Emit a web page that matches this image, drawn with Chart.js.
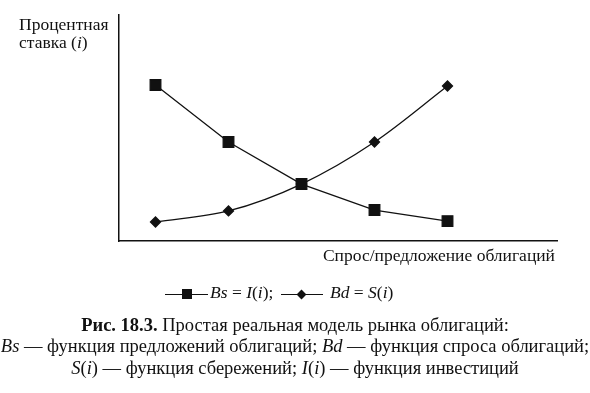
<!DOCTYPE html>
<html><head><meta charset="utf-8">
<script src="https://cdn.jsdelivr.net/npm/chart.js@4/dist/chart.umd.min.js"></script>
<style>
html,body{margin:0;padding:0;background:#fff;}
#wrap{position:relative;width:590px;height:393px;font-family:"Liberation Serif","DejaVu Serif",serif;color:#111;}
canvas{position:absolute;left:0;top:0;}
.t{position:absolute;white-space:nowrap;font-size:17.5px;line-height:18px;}
.c{position:absolute;white-space:nowrap;font-size:18.5px;line-height:21px;left:0;width:590px;text-align:center;}
.ln{position:absolute;border-top:1.3px solid #111;height:0;}
.sq{position:absolute;width:10px;height:10px;background:#111;}
.dm{position:absolute;width:7px;height:7px;background:#111;transform:rotate(45deg);}
</style></head><body>
<div id="wrap">
<canvas id="c" width="590" height="393"></canvas>
<div class="t" style="left:19px;top:15px;">Процентная</div>
<div class="t" style="left:19px;top:33px;">ставка (<i>i</i>)</div>
<div class="t" style="right:35px;top:246px;">Спрос/предложение облигаций</div>
<div id="leg"></div>
<div class="c" style="top:315px;"><b>Рис. 18.3.</b> Простая реальная модель рынка облигаций:</div>
<div class="c" style="top:336px;"><i>Bs</i> — функция предложений облигаций; <i>Bd</i> — функция спроса облигаций;</div>
<div class="c" style="top:358px;"><i>S</i>(<i>i</i>) — функция сбережений; <i>I</i>(<i>i</i>) — функция инвестиций</div>
</div>
<script>
const quantity = [0.5, 1.5, 2.5, 3.5, 4.5];
const supplyBs = [6.9, 4.38, 2.52, 1.37, 0.88];
const demandBd = [0.84, 1.33, 2.52, 4.38, 6.86];
const seriesNames = ["Bs = I(i);", "Bd = S(i)"];

const toPts = (ys) => quantity.map((x, i) => ({x, y: ys[i]}));

new Chart(document.getElementById('c'), {
  type: 'line',
  data: {
    datasets: [
      {label: seriesNames[0], data: toPts(supplyBs), borderColor:'#111', backgroundColor:'#111',
       borderWidth:1.3, pointStyle:'rect', pointRadius:7.5, tension:0},
      {label: seriesNames[1], data: toPts(demandBd), borderColor:'#111', backgroundColor:'#111',
       borderWidth:1.3, pointStyle:'rectRot', pointRadius:5, cubicInterpolationMode:'monotone'}
    ]
  },
  options: {
    responsive:false, animation:false, devicePixelRatio:1,
    layout:{padding:{left:111, top:15, right:33, bottom:144}},
    plugins:{legend:{display:false}, tooltip:{enabled:false}},
    scales:{
      x:{type:'linear', min:0, max:6, ticks:{display:false}, grid:{display:false},
         border:{display:true, color:'#111', width:1.5}},
      y:{type:'linear', min:0, max:10, ticks:{display:false}, grid:{display:false},
         border:{display:true, color:'#111', width:1.5}}
    }
  }
});

// legend (markers + labels), positioned like the original
const leg = document.getElementById('leg');
leg.innerHTML =
  '<div class="ln" style="left:165px;width:43px;top:294px;"></div>' +
  '<div class="sq" style="left:182px;top:289px;"></div>' +
  '<div class="t" style="left:210px;top:283px;"><i>Bs</i> = <i>I</i>(<i>i</i>);</div>' +
  '<div class="ln" style="left:281px;width:42px;top:294px;"></div>' +
  '<div class="dm" style="left:298px;top:291px;"></div>' +
  '<div class="t" style="left:330px;top:283px;"><i>Bd</i> = <i>S</i>(<i>i</i>)</div>';
</script>
</body></html>
